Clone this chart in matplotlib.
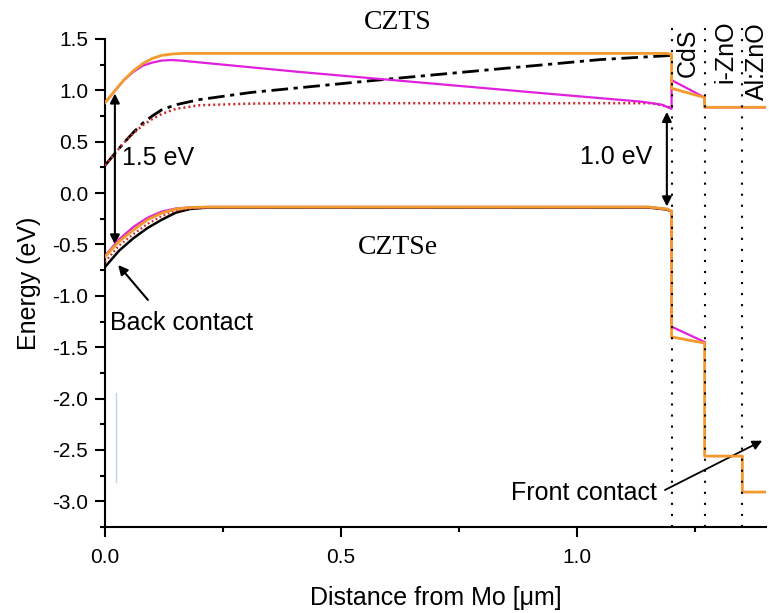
import matplotlib
matplotlib.use("Agg")
import matplotlib.pyplot as plt
from matplotlib.ticker import MultipleLocator

plt.rcParams['font.family'] = ['Liberation Sans', 'DejaVu Sans']

# ---- data ----
# conduction band, orange (full stack)
x_cb_or = [0, 0.02, 0.04, 0.06, 0.08, 0.10, 0.12, 0.145, 0.17, 0.20, 1.19, 1.20, 1.20, 1.27, 1.27, 1.40]
e_cb_or = [0.88, 0.99, 1.10, 1.19, 1.26, 1.31, 1.34, 1.355, 1.36, 1.36, 1.36, 1.35, 1.02, 0.93, 0.835, 0.835]
# conduction band, magenta
x_cb_mg = [0, 0.02, 0.04, 0.06, 0.08, 0.10, 0.12, 0.14, 0.16, 0.41, 0.945, 1.136, 1.18, 1.20, 1.20, 1.27, 1.27, 1.40]
e_cb_mg = [0.88, 0.99, 1.10, 1.18, 1.24, 1.27, 1.29, 1.295, 1.29, 1.18, 0.965, 0.89, 0.86, 0.82, 1.10, 0.93, 0.835, 0.835]
# conduction band, black dash-dot
x_cb_bk = [0, 0.02, 0.04, 0.06, 0.08, 0.10, 0.12, 0.15, 0.20, 0.31, 0.60, 1.05, 1.20]
e_cb_bk = [0.27, 0.38, 0.49, 0.59, 0.68, 0.75, 0.81, 0.86, 0.91, 0.98, 1.11, 1.30, 1.34]
# conduction band, red dotted
x_cb_rd = [0, 0.02, 0.04, 0.06, 0.08, 0.10, 0.12, 0.15, 0.20, 0.30, 0.40, 1.16, 1.20]
e_cb_rd = [0.27, 0.38, 0.49, 0.58, 0.66, 0.72, 0.77, 0.82, 0.855, 0.87, 0.875, 0.875, 0.83]

# valence band
x_vb_or = [0, 0.03, 0.06, 0.09, 0.12, 0.15, 0.18, 0.22, 1.15, 1.19, 1.20, 1.20, 1.27, 1.27, 1.35, 1.35, 1.40]
e_vb_or = [-0.62, -0.47, -0.36, -0.26, -0.195, -0.155, -0.14, -0.135, -0.135, -0.155, -0.175, -1.40, -1.46, -2.56, -2.56, -2.91, -2.91]
x_vb_mg = [0, 0.03, 0.06, 0.09, 0.12, 0.15, 0.18, 0.22, 1.15, 1.19, 1.20, 1.20, 1.27]
e_vb_mg = [-0.61, -0.45, -0.33, -0.24, -0.18, -0.15, -0.14, -0.135, -0.135, -0.155, -0.175, -1.30, -1.45]
x_vb_bk = [0, 0.03, 0.06, 0.09, 0.12, 0.15, 0.18, 0.22, 1.15, 1.19, 1.20]
e_vb_bk = [-0.72, -0.56, -0.44, -0.34, -0.26, -0.19, -0.155, -0.14, -0.14, -0.16, -0.18]
x_vb_rd = [0, 0.03, 0.06, 0.09, 0.12, 0.15, 0.18, 0.22, 1.15, 1.19, 1.20]
e_vb_rd = [-0.67, -0.51, -0.40, -0.30, -0.225, -0.17, -0.15, -0.14, -0.14, -0.16, -0.18]

# layer boundaries and labels
boundaries = [1.20, 1.27, 1.35]
layer_names = ["CdS", "i-ZnO", "Al:ZnO"]
layer_x = [1.235, 1.314, 1.381]
layer_y = [1.13, 1.07, 0.905]

C_OR = "#f39a2e"
C_MG = "#e020dc"
C_RD = "#cc2a2a"

fig = plt.figure(figsize=(7.69, 6.13), dpi=100)
ax = fig.add_axes([0.1365, 0.1403, 0.8596, 0.7961])

ax.plot(x_cb_bk, e_cb_bk, color="black", lw=2.0, ls=(0, (6, 2, 1.5, 2)), zorder=3)
ax.plot(x_cb_rd, e_cb_rd, color=C_RD, lw=1.8, ls=(0, (0.8, 1.2)), zorder=3)
ax.plot(x_cb_mg, e_cb_mg, color=C_MG, lw=1.6, zorder=4)
ax.plot(x_cb_or, e_cb_or, color=C_OR, lw=2.0, zorder=5)

ax.plot(x_vb_bk, e_vb_bk, color="black", lw=1.8, zorder=3)
ax.plot(x_vb_rd, e_vb_rd, color=C_RD, lw=1.6, ls=(0, (0.8, 1.2)), zorder=3)
ax.plot(x_vb_mg, e_vb_mg, color=C_MG, lw=1.6, zorder=4)
ax.plot(x_vb_or, e_vb_or, color=C_OR, lw=2.0, zorder=5)

for xb in boundaries:
    ax.plot([xb, xb], [-3.25, 1.63], color="black", lw=1.5, ls=(0, (1, 4.3)),
            clip_on=False, zorder=6)

for name, lx, ly in zip(layer_names, layer_x, layer_y):
    ax.text(lx, ly, name, rotation=90, ha="center", va="bottom", fontsize=18,
            clip_on=False)

# faint artifact line
ax.plot([0.023, 0.023], [-1.95, -2.81], color="#b8d4ee", lw=1.0)

# annotations
arr = dict(arrowstyle="<|-|>", color="black", lw=1.5, mutation_scale=14,
           shrinkA=0, shrinkB=0)
ax.annotate("", xy=(0.021, 0.97), xytext=(0.021, -0.50), arrowprops=arr)
ax.text(0.036, 0.34, "1.5 eV", fontsize=18, ha="left", va="center")
ax.annotate("", xy=(1.19, 0.79), xytext=(1.19, -0.13), arrowprops=arr)
ax.text(1.159, 0.35, "1.0 eV", fontsize=18, ha="right", va="center")

ax.annotate("", xy=(0.028, -0.70), xytext=(0.091, -1.04),
            arrowprops=dict(arrowstyle="-|>", color="black", lw=1.5,
                            mutation_scale=14, shrinkA=0, shrinkB=0))
ax.text(0.011, -1.26, "Back contact", fontsize=18, ha="left", va="center")

ax.annotate("", xy=(1.392, -2.41), xytext=(1.186, -2.89),
            arrowprops=dict(arrowstyle="-|>", color="black", lw=1.3,
                            mutation_scale=14, shrinkA=0, shrinkB=0),
            annotation_clip=False)
ax.text(1.169, -2.92, "Front contact", fontsize=18, ha="right", va="center")

ax.text(0.62, 1.665, "CZTS", fontsize=20, family="Liberation Serif",
        ha="center", va="center", clip_on=False)
ax.text(0.62, -0.526, "CZTSe", fontsize=20, family="Liberation Serif",
        ha="center", va="center")

ax.set_xlim(0, 1.40)
ax.set_ylim(-3.25, 1.5)
ax.xaxis.set_major_locator(MultipleLocator(0.5))
ax.xaxis.set_minor_locator(MultipleLocator(0.25))
ax.yaxis.set_major_locator(MultipleLocator(0.5))
ax.yaxis.set_minor_locator(MultipleLocator(0.25))
ax.xaxis.set_major_formatter(matplotlib.ticker.FormatStrFormatter("%.1f"))
ax.yaxis.set_major_formatter(matplotlib.ticker.FormatStrFormatter("%.1f"))

for s in ["top", "right"]:
    ax.spines[s].set_visible(False)
for s in ["left", "bottom"]:
    ax.spines[s].set_linewidth(1.5)
ax.tick_params(which="major", direction="out", length=7, width=1.5,
               labelsize=15, pad=5)
ax.tick_params(axis="x", which="major", pad=8)
ax.tick_params(which="minor", direction="out", length=3.6, width=1.5)

ax.set_xlabel("Distance from Mo [\u03bcm]", fontsize=18, labelpad=14)
ax.set_ylabel("Energy (eV)", fontsize=18, labelpad=8)

fig.savefig("out.png", dpi=100)
